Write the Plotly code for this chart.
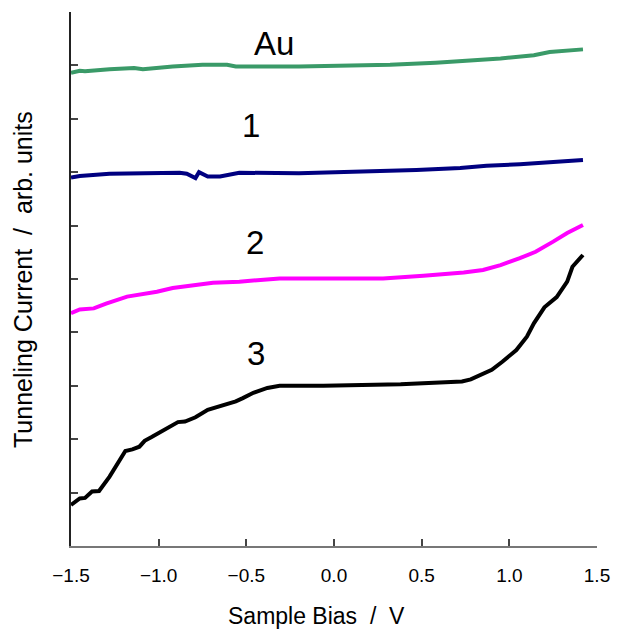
import plotly.graph_objects as go

# Data
au_x = [-1.50, -1.45, -1.42, -1.39, -1.28, -1.14, -1.09, -0.92, -0.75, -0.61, -0.56, -0.20, 0.32, 0.58, 0.77, 0.95, 1.14, 1.23, 1.42]
au_y = [8.86, 8.90, 8.89, 8.90, 8.93, 8.95, 8.93, 8.98, 9.01, 9.01, 8.98, 8.98, 9.01, 9.05, 9.09, 9.13, 9.19, 9.25, 9.30]

s1_x = [-1.50, -1.45, -1.28, -1.05, -0.88, -0.84, -0.79, -0.77, -0.72, -0.65, -0.54, -0.20, 0.14, 0.47, 0.72, 0.87, 1.06, 1.23, 1.42]
s1_y = [6.90, 6.93, 6.97, 6.99, 6.99, 6.97, 6.89, 7.00, 6.92, 6.92, 6.99, 6.98, 7.01, 7.04, 7.08, 7.12, 7.15, 7.18, 7.23]

s2_x = [-1.50, -1.45, -1.37, -1.30, -1.18, -1.11, -1.01, -0.92, -0.80, -0.69, -0.54, -0.40, -0.31, -0.08, 0.28, 0.51, 0.63, 0.74, 0.85, 0.95, 1.06, 1.15, 1.25, 1.33, 1.42]
s2_y = [4.36, 4.43, 4.45, 4.54, 4.67, 4.70, 4.76, 4.83, 4.89, 4.93, 4.95, 4.99, 5.01, 5.01, 5.01, 5.06, 5.09, 5.12, 5.17, 5.26, 5.39, 5.51, 5.70, 5.86, 6.01]

s3_x = [-1.50, -1.45, -1.42, -1.38, -1.34, -1.28, -1.19, -1.15, -1.11, -1.08, -1.04, -0.95, -0.89, -0.85, -0.79, -0.72, -0.63, -0.56, -0.52, -0.46, -0.38, -0.33, -0.31, -0.20, -0.06, 0.38, 0.62, 0.73, 0.78, 0.84, 0.90, 0.96, 1.04, 1.10, 1.14, 1.20, 1.27, 1.33, 1.36, 1.42]
s3_y = [0.77, 0.89, 0.90, 1.02, 1.03, 1.30, 1.78, 1.81, 1.86, 1.97, 2.04, 2.22, 2.32, 2.33, 2.41, 2.55, 2.64, 2.71, 2.77, 2.87, 2.96, 2.98, 3.00, 3.00, 3.00, 3.03, 3.07, 3.08, 3.12, 3.22, 3.30, 3.45, 3.67, 3.92, 4.17, 4.47, 4.66, 4.95, 5.23, 5.45]

series_names = ["Au", "1", "2", "3"]
series_colors = ["#3A9A68", "#000080", "#FF00FF", "#000000"]
label_x = [-0.343, -0.473, -0.452, -0.447]
label_y = [9.41, 7.87, 5.68, 3.60]

x_ticks = [-1.5, -1.0, -0.5, 0.0, 0.5, 1.0, 1.5]
x_ticktext = ["\u22121.5", "\u22121.0", "\u22120.5", "0.0", "0.5", "1.0", "1.5"]

x_title = "Sample Bias  /  V"
y_title = "Tunneling Current  /  arb. units"

FONT = "Liberation Sans, Arial, sans-serif"

fig = go.Figure()
for name, xs, ys, col in zip(series_names, [au_x, s1_x, s2_x, s3_x], [au_y, s1_y, s2_y, s3_y], series_colors):
    fig.add_trace(go.Scatter(x=xs, y=ys, mode="lines", name=name,
                             line=dict(color=col, width=4), showlegend=False))

for name, lx, ly in zip(series_names, label_x, label_y):
    fig.add_annotation(x=lx, y=ly, text=name, showarrow=False,
                       font=dict(family=FONT, size=33, color="black"),
                       xanchor="center", yanchor="middle")

# axis titles (placed as paper-anchored text to match the reference offsets)
fig.add_annotation(xref="paper", yref="paper", x=0.466, y=-0.131, text=x_title,
                   showarrow=False, xanchor="center", yanchor="middle",
                   font=dict(family=FONT, size=23, color="black"))
fig.add_annotation(xref="paper", yref="paper", x=-0.0913, y=0.50, text=y_title,
                   showarrow=False, xanchor="center", yanchor="middle", textangle=-90,
                   font=dict(family=FONT, size=25, color="black"))

# page body has an 8px default margin, so the figure is sized/offset to compensate
fig.update_layout(
    width=616, height=622,
    margin=dict(l=63, r=27, t=4, b=84),
    paper_bgcolor="white", plot_bgcolor="white",
    font=dict(family=FONT, color="black"),
    xaxis=dict(range=[-1.5, 1.5], tickvals=x_ticks, ticktext=x_ticktext,
               ticks="inside", ticklen=7, tickwidth=1.5, tickcolor="#444",
               showline=True, linecolor="#777", linewidth=2,
               showgrid=False, zeroline=False, automargin=False,
               tickfont=dict(size=19, color="black"), ticklabelstandoff=11),
    yaxis=dict(range=[0, 10], dtick=1, tick0=0, showticklabels=False,
               ticks="inside", ticklen=7, tickwidth=1.5, tickcolor="#444",
               showline=True, linecolor="#222", linewidth=1.5,
               showgrid=False, zeroline=False, automargin=False),
)

fig.write_html("out.html")
